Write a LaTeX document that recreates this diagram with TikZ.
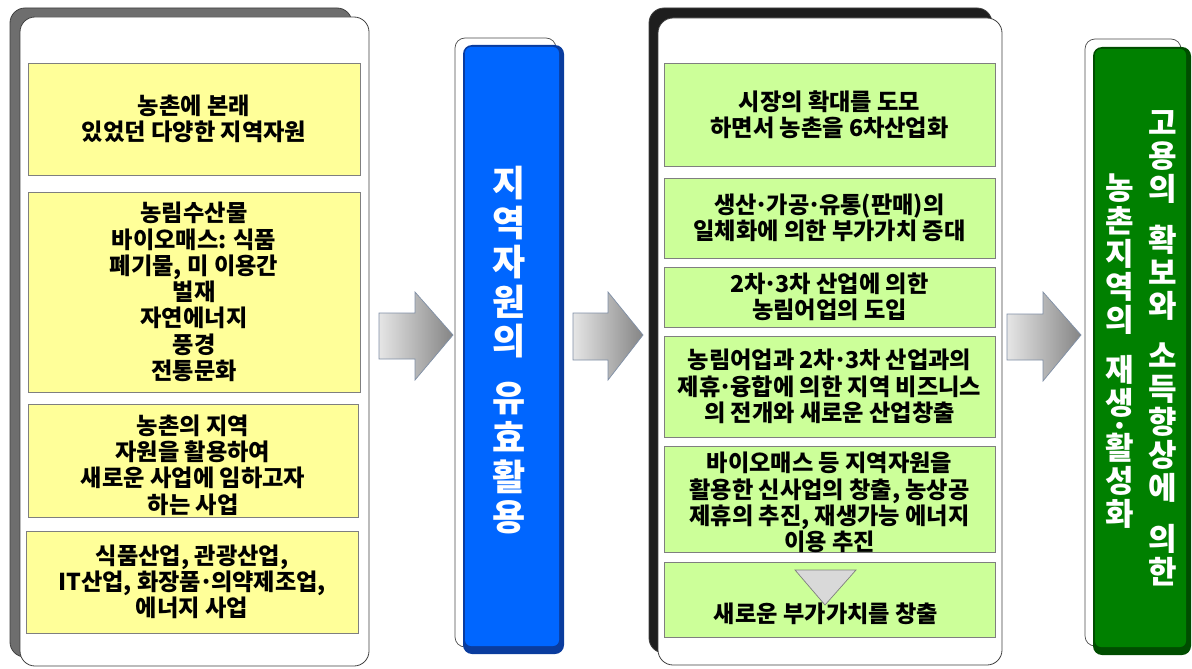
\documentclass[tikz,border=0pt]{standalone}
\usepackage{fontspec}
\setmainfont{Noto Sans CJK KR}
\newcommand{\mdot}{\hbox to 0.42em{\hss ·\hss}}
\definecolor{ybox}{HTML}{FFFF99}
\definecolor{gbox}{HTML}{CCFF99}
\definecolor{blueA}{HTML}{0066FF}
\definecolor{blueD}{HTML}{0A3C9E}
\definecolor{greenA}{HTML}{008000}
\definecolor{greenD}{HTML}{004D00}
\definecolor{edgegray}{HTML}{7F7F7F}
\definecolor{panelgray}{HTML}{6E6E6E}
\definecolor{paneldark}{HTML}{1E1E1E}
\definecolor{arrowedge}{HTML}{7F8FA6}
\tikzset{
  panelback/.style={draw=black!75, line width=0.8pt, rounded corners=15pt, inner sep=0pt},
  panelfront/.style={draw=black!75, fill=white, line width=0.8pt, rounded corners=15pt, inner sep=0pt},
  textbox/.style={draw=edgegray, line width=0.8pt, inner sep=0pt, align=center, text=black,
     font=\bfseries\fontsize{23.2}{26.3}\selectfont},
  boxtext/.style={inner sep=0pt, align=center, text=black, font=\bfseries\fontsize{23.2}{26.3}\selectfont},
  barshadow/.style={draw=black!70, fill=white, line width=0.7pt, rounded corners=10pt, inner sep=0pt},
  barouter/.style={rounded corners=9pt, inner sep=0pt},
  barinner/.style={rounded corners=6pt, inner sep=0pt},
  vtext/.style={text=white, align=center, inner sep=0pt},
  blockarrow/.style={draw=arrowedge, line width=0.7pt, left color=black!10, right color=black!48},
  tri/.style={draw=edgegray, fill=black!15, line width=0.7pt},
}
\begin{document}
\begin{tikzpicture}[x=1pt,y=-1pt]
\useasboundingbox (0,0) rectangle (1192,669);

% ---------- left panel ----------
\node[panelback, fill=panelgray, minimum width=342pt, minimum height=649pt] (lback) at (181,332.5) {};
\node[panelfront, minimum width=349pt, minimum height=649pt] (lfront) at (194.5,341.5) {};
\node[textbox, fill=ybox, minimum width=332pt, minimum height=112pt] (y1) at (194,119)
  {농촌에 본래\\있었던 다양한 지역자원};
\node[textbox, fill=ybox, minimum width=332pt, minimum height=200pt] (y2) at (194,292)
  {농림수산물\\바이오매스: 식품\\폐기물, 미 이용간\\벌재\\자연에너지\\풍경\\전통문화};
\node[textbox, fill=ybox, minimum width=330pt, minimum height=113pt] (y3) at (193,460.5) {};
\node[boxtext] (y3t) at (193,465)
  {농촌의 지역\\자원을 활용하여\\새로운 사업에 임하고자\\하는 사업};
\node[textbox, fill=ybox, minimum width=332pt, minimum height=102pt] (y4) at (192,582)
  {식품산업, 관광산업,\\IT산업, 화장품\mdot 의약제조업,\\에너지 사업};

% ---------- arrows ----------
\path[blockarrow] (379,313) -- (415,313) -- (415,292) -- (453,335) -- (415,380) -- (415,359) -- (379,359) -- cycle;
\path[blockarrow] (573,313) -- (608,313) -- (608,292) -- (643,335) -- (608,380) -- (608,360) -- (573,360) -- cycle;
\path[blockarrow] (1007,314) -- (1043,314) -- (1043,292) -- (1081,335) -- (1043,381) -- (1043,360) -- (1007,360) -- cycle;

% ---------- blue bar ----------
\node[barshadow, minimum width=101pt, minimum height=609pt] (bshadow) at (505.5,342.5) {};
\node[barouter, fill=blueD, minimum width=101pt, minimum height=609pt] (bouter) at (513.5,349.5) {};
\node[barinner, fill=blueA, minimum width=94pt, minimum height=599pt] (binner) at (512,346.5) {};
\node[vtext, font=\bfseries\fontsize{36}{39.5}\selectfont] (btext) at (509,350)
  {지\\역\\자\\원\\의\\[17.5pt]유\\효\\활\\용};

% ---------- right panel ----------
\node[panelback, fill=paneldark, minimum width=343pt, minimum height=645pt] (rback) at (820.5,330.5) {};
\node[panelfront, minimum width=344pt, minimum height=647pt] (rfront) at (830,341.5) {};
\node[textbox, fill=gbox, minimum width=331pt, minimum height=103pt] (g1) at (829.5,114.5)
  {시장의 확대를 도모\\하면서 농촌을 6차산업화};
\node[textbox, fill=gbox, minimum width=331pt, minimum height=80pt] (g2) at (829.5,218)
  {생산\mdot 가공\mdot 유통(판매)의\\일체화에 의한 부가가치 증대};
\node[textbox, fill=gbox, minimum width=331pt, minimum height=60pt] (g3) at (829.5,297)
  {2차\mdot 3차 산업에 의한\\농림어업의 도입};
\node[textbox, fill=gbox, minimum width=331pt, minimum height=101pt] (g4) at (829.5,386.5)
  {농림어업과 2차\mdot 3차 산업과의\\제휴\mdot 융합에 의한 지역 비즈니스\\의 전개와 새로운 산업창출};
\node[textbox, fill=gbox, minimum width=331pt, minimum height=106pt] (g5) at (829.5,499) {};
\node[boxtext] (g5t) at (829.5,502.5)
  {바이오매스 등 지역자원을\\활용한 신사업의 창출, 농상공\\제휴의 추진, 재생가능 에너지\\이용 추진};
\node[textbox, fill=gbox, minimum width=331pt, minimum height=75pt] (g6) at (829.5,599.5) {};
\draw[tri] (795,570) -- (856,570) -- (825,605) -- cycle;
\node[boxtext] (g6t) at (826,614) {새로운 부가가치를 창출};

% ---------- green bar ----------
\node[barshadow, minimum width=96pt, minimum height=607pt] (gshadow) at (1133,342.5) {};
\node[barouter, fill=greenD, minimum width=98pt, minimum height=608pt] (gouter) at (1142,351) {};
\node[barinner, fill=greenA, minimum width=91pt, minimum height=598pt] (ginner) at (1140.5,348) {};
\node[vtext, font=\bfseries\fontsize{31}{33}\selectfont] (gtextR) at (1163,348.5)
  {고\\용\\의\\[17.5pt]확\\보\\와\\[17.5pt]소\\득\\향\\상\\에\\[17.5pt]의\\한};
\node[vtext, font=\bfseries\fontsize{31}{33}\selectfont] (gtextL) at (1120,351.5)
  {농\\촌\\지\\역\\의\\[17pt]재\\생\\[-10.5pt]·\\[-10.5pt]활\\성\\화};
\end{tikzpicture}
\end{document}
